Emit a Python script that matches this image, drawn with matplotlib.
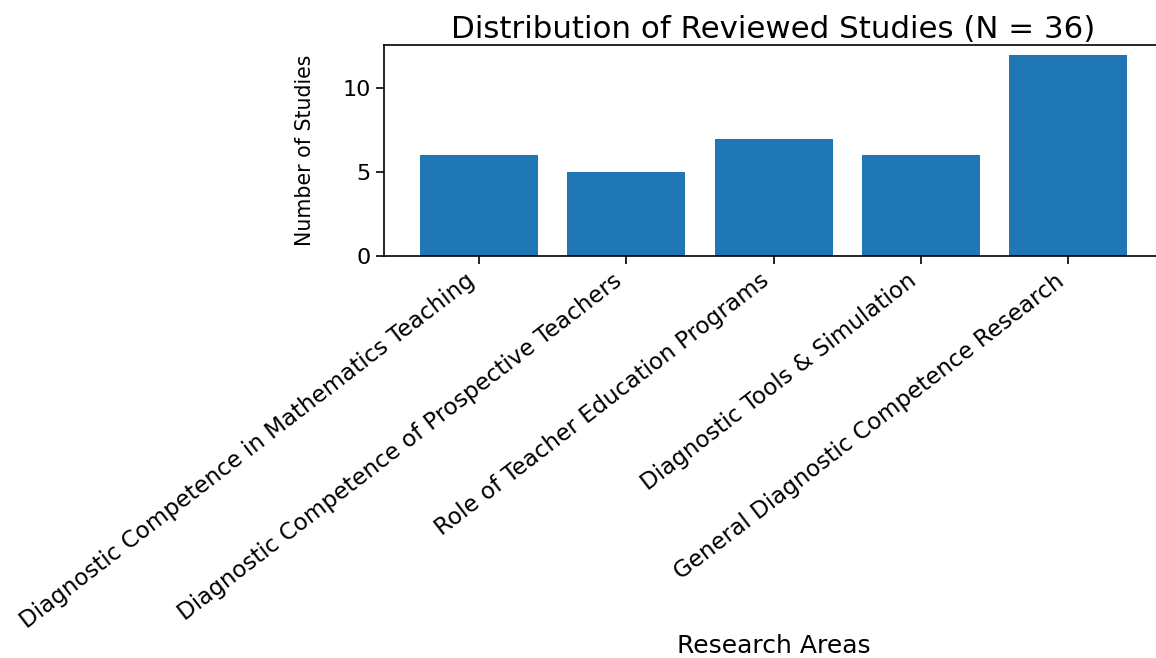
import matplotlib
matplotlib.use("Agg")
import matplotlib.pyplot as plt

areas = [
    "Diagnostic Competence in Mathematics Teaching",
    "Diagnostic Competence of Prospective Teachers",
    "Role of Teacher Education Programs",
    "Diagnostic Tools & Simulation",
    "General Diagnostic Competence Research",
]
counts = [6, 5, 7, 6, 12]

fig = plt.figure(figsize=(11.56, 6.58), dpi=100)
ax = fig.add_axes([0.3322, 0.611, 0.674, 0.3207])

x = range(len(areas))
ax.bar(x, counts, width=0.8, color="#1f77b4")
ax.set_xlim(-0.645, 4.645)
ax.set_ylim(0, 12.6)
ax.set_yticks([0, 5, 10])
ax.set_xticks(list(x))
ax.set_xticklabels(areas, rotation=37.6, ha="right", fontsize=16.6)
ax.tick_params(axis="y", labelsize=16, length=6, width=1.2)
ax.tick_params(axis="x", length=6, width=1.2)
for s in ax.spines.values():
    s.set_linewidth(1.2)

ax.set_title("Distribution of Reviewed Studies (N = 36)", fontsize=22.2, pad=5)
ax.set_ylabel("Number of Studies", fontsize=14.8)
ax.yaxis.set_label_coords(-0.0886, 0.5)
ax.set_xlabel("Research Areas", fontsize=18)
ax.xaxis.set_label_coords(0.5, -1.79)

fig.savefig("out.png", dpi=100)
plt.close(fig)
